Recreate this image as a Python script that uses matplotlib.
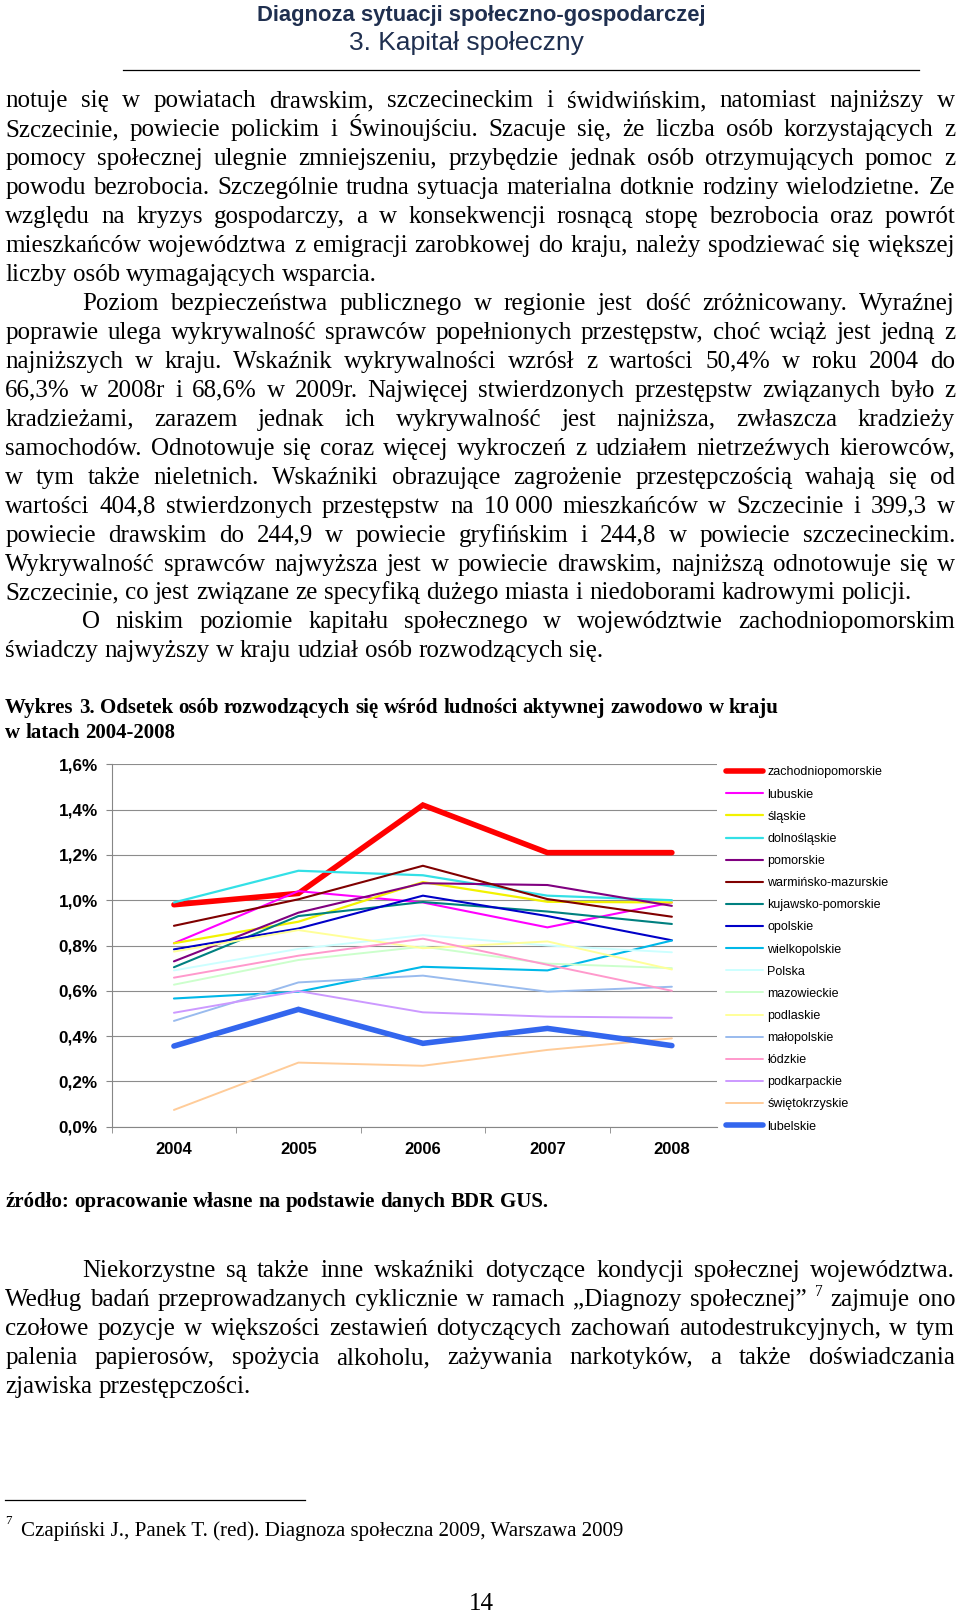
import matplotlib
matplotlib.use('Agg')
import matplotlib.pyplot as plt
from matplotlib.font_manager import FontProperties

# ---------------- data ----------------
years = ['2004', '2005', '2006', '2007', '2008']
regions = ['zachodniopomorskie', 'lubuskie', 'śląskie', 'dolnośląskie', 'pomorskie',
           'warmińsko-mazurskie', 'kujawsko-pomorskie', 'opolskie', 'wielkopolskie',
           'Polska', 'mazowieckie', 'podlaskie', 'małopolskie', 'łódzkie',
           'podkarpackie', 'świętokrzyskie', 'lubelskie']
zachodniopomorskie = [0.98, 1.03, 1.42, 1.21, 1.21]
lubuskie = [0.81, 1.04, 0.99, 0.88, 0.99]
slaskie = [0.81, 0.905, 1.08, 0.993, 0.99]
dolnoslaskie = [0.99, 1.13, 1.11, 1.02, 1.00]
pomorskie = [0.73, 0.945, 1.075, 1.067, 0.975]
warminsko_mazurskie = [0.887, 1.004, 1.152, 1.005, 0.927]
kujawsko_pomorskie = [0.704, 0.93, 0.992, 0.95, 0.895]
opolskie = [0.783, 0.875, 1.02, 0.93, 0.823]
wielkopolskie = [0.566, 0.596, 0.706, 0.69, 0.822]
polska = [0.69, 0.785, 0.846, 0.80, 0.77]
mazowieckie = [0.627, 0.736, 0.795, 0.72, 0.70]
podlaskie = [0.773, 0.868, 0.788, 0.818, 0.694]
malopolskie = [0.467, 0.637, 0.667, 0.596, 0.618]
lodzkie = [0.658, 0.755, 0.83, 0.715, 0.60]
podkarpackie = [0.503, 0.599, 0.505, 0.486, 0.481]
swietokrzyskie = [0.074, 0.283, 0.269, 0.339, 0.39]
lubelskie = [0.356, 0.518, 0.368, 0.434, 0.358]
series = [zachodniopomorskie, lubuskie, slaskie, dolnoslaskie, pomorskie,
          warminsko_mazurskie, kujawsko_pomorskie, opolskie, wielkopolskie,
          polska, mazowieckie, podlaskie, malopolskie, lodzkie, podkarpackie,
          swietokrzyskie, lubelskie]
colors = ['#FF0000', '#FF00FF', '#F2F200', '#33E0E6', '#800080', '#800000', '#008080',
          '#0000C8', '#00B8E8', '#CCFFFF', '#CCFFCC', '#FFFF99', '#99BBEE', '#FF99CC',
          '#CC99FF', '#FFCC99', '#3366EE']
widths = [4.0, 1.5, 1.6, 1.6, 1.5, 1.5, 1.5, 1.5, 1.5, 1.4, 1.4, 1.4, 1.4, 1.4, 1.4, 1.4, 4.0]
yticks = [0.0, 0.2, 0.4, 0.6, 0.8, 1.0, 1.2, 1.4, 1.6]
ytick_labels = ['0,0%', '0,2%', '0,4%', '0,6%', '0,8%', '1,0%', '1,2%', '1,4%', '1,6%']

para1 = [
    "notuje się w powiatach drawskim, szczecineckim i świdwińskim, natomiast najniższy w",
    "Szczecinie, powiecie polickim i Świnoujściu. Szacuje się, że liczba osób korzystających z",
    "pomocy społecznej ulegnie zmniejszeniu, przybędzie jednak osób otrzymujących pomoc z",
    "powodu bezrobocia. Szczególnie trudna sytuacja materialna dotknie rodziny wielodzietne. Ze",
    "względu na kryzys gospodarczy, a w konsekwencji rosnącą stopę bezrobocia oraz powrót",
    "mieszkańców województwa z emigracji zarobkowej do kraju, należy spodziewać się większej",
    "liczby osób wymagających wsparcia.",
]
para2 = [
    "Poziom bezpieczeństwa publicznego w regionie jest dość zróżnicowany. Wyraźnej",
    "poprawie ulega wykrywalność sprawców popełnionych przestępstw, choć wciąż jest jedną z",
    "najniższych w kraju. Wskaźnik wykrywalności wzrósł z wartości 50,4% w roku 2004 do",
    "66,3% w 2008r i 68,6% w 2009r. Najwięcej stwierdzonych przestępstw związanych było z",
    "kradzieżami, zarazem jednak ich wykrywalność jest najniższa, zwłaszcza kradzieży",
    "samochodów. Odnotowuje się coraz więcej wykroczeń z udziałem nietrzeźwych kierowców,",
    "w tym także nieletnich. Wskaźniki obrazujące zagrożenie przestępczością wahają się od",
    "wartości 404,8 stwierdzonych przestępstw na 10\u00a0000 mieszkańców w Szczecinie i 399,3 w",
    "powiecie drawskim do 244,9 w powiecie gryfińskim i 244,8 w powiecie szczecineckim.",
    "Wykrywalność sprawców najwyższa jest w powiecie drawskim, najniższą odnotowuje się w",
    "Szczecinie, co jest związane ze specyfiką dużego miasta i niedoborami kadrowymi policji.",
]
para3 = [
    "O niskim poziomie kapitału społecznego w województwie zachodniopomorskim",
    "świadczy najwyższy w kraju udział osób rozwodzących się.",
]
para4 = [
    "Niekorzystne są także inne wskaźniki dotyczące kondycji społecznej województwa.",
    "Według badań przeprowadzanych cyklicznie w ramach „Diagnozy społecznej” ^7 zajmuje ono",
    "czołowe pozycje w większości zestawień dotyczących zachowań autodestrukcyjnych, w tym",
    "palenia papierosów, spożycia alkoholu, zażywania narkotyków, a także doświadczania",
    "zjawiska przestępczości.",
]

# ---------------- page ----------------
W, H = 960, 1613
fig = plt.figure(figsize=(9.6, 16.13), dpi=100, facecolor='white')
renderer = fig.canvas.get_renderer()
SERIF = 'Liberation Serif'
SANS = 'Liberation Sans'


def tw(s, size, family=SERIF, weight='normal'):
    fp = FontProperties(family=family, size=size, weight=weight)
    w, h, d = renderer.get_text_width_height_descent(s, fp, ismath=False)
    return w


def fit(s, px, family=SERIF, weight='normal'):
    return 10 * px / tw(s, 10, family, weight)


def put(x, y, s, size, family=SERIF, weight='normal', ha='left', color='black'):
    fig.text(x / W, 1 - y / H, s, fontsize=size, family=family, weight=weight,
             ha=ha, va='baseline', color=color)


def line(s, yc, size, x0=5.1, x1=955.0, justify=True, family=SERIF, weight='normal'):
    spx = size * 100 / 72
    yb = yc + 0.3 * spx
    words = s.split(' ')
    ws = []
    for w in words:
        if w.startswith('^'):
            ws.append(tw(w[1:], size * 0.62, family, weight))
        else:
            ws.append(tw(w.replace('\u00a0', ' '), size, family, weight))
    if justify and len(words) > 1:
        gap = (x1 - x0 - sum(ws)) / (len(words) - 1)
    else:
        gap = tw('a a', size, family, weight) - tw('aa', size, family, weight)
    x = x0
    for w, wd in zip(words, ws):
        if w.startswith('^'):
            put(x, yb - 0.42 * spx, w[1:], size * 0.62, family, weight)
        else:
            put(x, yb, w.replace('\u00a0', ' '), size, family, weight)
        x += wd + gap


# header
hcol = '#1F2F4F'
hs1 = fit('Diagnoza sytuacji społeczno-gospodarczej', 448, SANS, 'bold')
hs2 = fit('3. Kapitał społeczny', 235, SANS)
put(481, 13.4 + 0.33 * hs1 * 100 / 72, 'Diagnoza sytuacji społeczno-gospodarczej', hs1, SANS, 'bold', 'center', hcol)
put(466, 41.2 + 0.33 * hs2 * 100 / 72, '3. Kapitał społeczny', hs2, SANS, 'normal', 'center', hcol)
fig.add_artist(plt.Line2D([123.5 / W, 919 / W], [1 - 70 / H, 1 - 70 / H], color='black', lw=0.9))

# body text
bs = fit('liczby osób wymagających wsparcia.', 373)
pitch = 28.95
y0 = 99.8
body_lines = []
for i, s in enumerate(para1):
    body_lines.append((s, i == len(para1) - 1, False))
for i, s in enumerate(para2):
    body_lines.append((s, i == len(para2) - 1, i == 0))
for i, s in enumerate(para3):
    body_lines.append((s, i == len(para3) - 1, i == 0))
for k, (s, last, indent) in enumerate(body_lines):
    line(s, y0 + k * pitch, bs, x0=5.1 + (77 if indent else 0), justify=not last)

# caption
cs = fit('Wykres 3. Odsetek osób rozwodzących się wśród ludności aktywnej zawodowo w kraju', 777, SERIF, 'bold')
line('Wykres 3. Odsetek osób rozwodzących się wśród ludności aktywnej zawodowo w kraju', 706.9, cs,
     justify=False, weight='bold')
line('w latach 2004-2008', 731.6, cs, justify=False, weight='bold')

# source
line('źródło: opracowanie własne na podstawie danych BDR GUS.', 1200.8, cs, justify=False, weight='bold')

# paragraph 4
for i, s in enumerate(para4):
    line(s, 1269.7 + i * pitch, bs, x0=5.1 + (77 if i == 0 else 0), justify=(i != len(para4) - 1))

# footnote
fig.add_artist(plt.Line2D([5 / W, 305 / W], [1 - 1500 / H, 1 - 1500 / H], color='black', lw=0.9))
fs_ = fit('Czapiński J., Panek T. (red). Diagnoza społeczna 2009, Warszawa 2009', 602)
put(5, 1530 + 0.3 * fs_ * 100 / 72 - 12, '7', fs_ * 0.62)
put(20.6, 1530 + 0.3 * fs_ * 100 / 72, 'Czapiński J., Panek T. (red). Diagnoza społeczna 2009, Warszawa 2009', fs_)
put(481, 1602 + 0.3 * bs * 100 / 72, '14', bs, ha='center')

# ---------------- chart ----------------
left, right, top, bottom = 111.7, 716.7, 764.3, 1126.7
ax = fig.add_axes([left / W, 1 - bottom / H, (right - left) / W, (bottom - top) / H])
x = list(range(len(years)))
handles = []
for name, vals, c, lw in zip(regions, series, colors, widths):
    h, = ax.plot(x, vals, color=c, lw=lw, solid_capstyle='round', solid_joinstyle='miter', label=name)
    handles.append(h)
ax.set_xlim(-0.5, 4.36)
ax.set_ylim(0, 1.6)
ax.set_yticks(yticks)
ax.set_yticklabels(ytick_labels, fontsize=12.3, family=SANS, weight='bold')
ax.set_xticks(x)
ax.set_xticklabels(years, fontsize=12, family=SANS, weight='bold')
ax.set_xticks([-0.5, 0.5, 1.5, 2.5, 3.5], minor=True)
ax.tick_params(axis='x', which='major', length=0, pad=11)
ax.tick_params(axis='x', which='minor', length=4, color='#868686', direction='out')
ax.tick_params(axis='y', length=4, color='#868686', pad=6)
ax.grid(axis='y', color='#8C8C8C', lw=0.8)
ax.set_axisbelow(True)
for sp in ['top', 'right']:
    ax.spines[sp].set_visible(False)
for sp in ['left', 'bottom']:
    ax.spines[sp].set_color('#868686')
    ax.spines[sp].set_linewidth(0.8)

leg = fig.legend(handles=handles, loc='upper left', bbox_to_anchor=(725.5 / W, 1 - 766.5 / H),
                 borderaxespad=0, borderpad=0, frameon=False,
                 prop=FontProperties(family=SANS, size=9),
                 handlelength=3.0, handletextpad=0.35, labelspacing=0.81)

fig.savefig('out.png', dpi=100, facecolor='white')
